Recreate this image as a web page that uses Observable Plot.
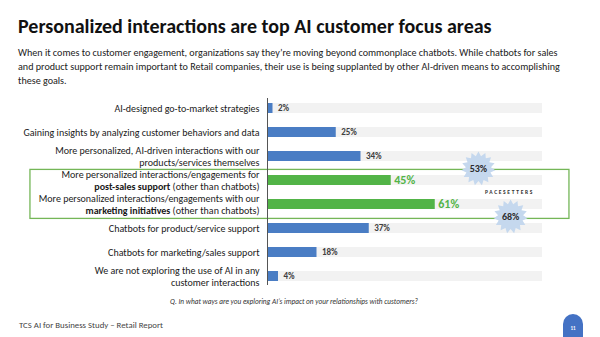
<!DOCTYPE html>
<html>
<head>
<meta charset="utf-8">
<script src="https://cdn.jsdelivr.net/npm/d3@7"></script>
<script src="https://cdn.jsdelivr.net/npm/@observablehq/plot@0.6"></script>
<style>
  html, body { margin: 0; padding: 0; background: #fff; }
  #page { position: relative; width: 600px; height: 337px; overflow: hidden; font-family: Carlito, Lato, sans-serif; color: #1a1a1a; }
  #title { position: absolute; left: 18px; top: 14px; font-size: 20px; font-weight: 700; line-height: 24px; white-space: nowrap; color: #111; }
  #subtitle { position: absolute; left: 18px; top: 46px; font-size: 10.1px; line-height: 14px; white-space: nowrap; color: #222; }
  #chart { position: absolute; left: 0; top: 85px; }
  #question { position: absolute; left: 0; width: 588px; top: 297px; text-align: center; font-size: 7.3px; font-style: italic; color: #333; }
  #footer { position: absolute; left: 19px; top: 320px; font-size: 8.8px; color: #444; }
  #pageno { position: absolute; left: 563px; top: 314px; width: 20px; height: 23px; border-radius: 10px 10px 0 0; background: #4472c4; color: #fff; font-size: 5px; font-weight: 700; text-align: center; line-height: 28px; }
</style>
</head>
<body>
<div id="page">
  <div id="title">Personalized interactions are top AI customer focus areas</div>
  <div id="subtitle">When it comes to customer engagement, organizations say they’re moving beyond commonplace chatbots. While chatbots for sales<br>and product support remain important to Retail companies, their use is being supplanted by other AI-driven means to accomplishing<br>these goals.</div>
  <div id="chart"></div>
  <div id="question">Q. In what ways are you exploring AI’s impact on your relationships with customers?</div>
  <div id="footer">TCS AI for Business Study – Retail Report</div>
  <div id="pageno">11</div>
</div>
<script>
// Survey answers, top to bottom
const categories = [
  "AI-designed go-to-market strategies",
  "Gaining insights by analyzing customer behaviors and data",
  "More personalized, AI-driven interactions with our\nproducts/services themselves",
  "More personalized interactions/engagements for\npost-sales support (other than chatbots)",
  "More personalized interactions/engagements with our\nmarketing initiatives (other than chatbots)",
  "Chatbots for product/service support",
  "Chatbots for marketing/sales support",
  "We are not exploring the use of AI in any\ncustomer interactions"
];
const values = [2, 25, 34, 45, 61, 37, 18, 4];
const highlighted = [false, false, false, true, true, false, false, false];
const boldPhrases = ["post-sales support", "marketing initiatives"];

// Pacesetter shares for the two highlighted answers
const pacesetterValues = [53, 68];
const pacesetterLabel = "PACESETTERS";

const rows = categories.map((label, i) => ({label, value: values[i], hi: highlighted[i]}));
const hiRows = rows.filter(d => d.hi);
const pace = hiRows.map((d, i) => ({label: d.label, value: pacesetterValues[i]}));

const blue = "#4a7dc4";
const green = "#52b447";
const boxGreen = "#74b657";

// Many-pointed badge shape for the pacesetter callouts
const starburst = {
  draw(ctx, size) {
    const R = Math.sqrt(size / Math.PI), r = R * 0.74, n = 15;
    for (let i = 0; i < 2 * n; ++i) {
      const a = (i * Math.PI) / n - Math.PI / 2;
      const rad = i % 2 ? r : R;
      const px = rad * Math.cos(a), py = rad * Math.sin(a);
      if (i === 0) ctx.moveTo(px, py); else ctx.lineTo(px, py);
    }
    ctx.closePath();
  }
};

const chart = Plot.plot({
  width: 600,
  height: 227,
  marginLeft: 267,
  marginRight: 58,
  marginTop: 13,
  marginBottom: 27,
  style: {fontFamily: "Carlito, Lato, sans-serif", overflow: "visible"},
  x: {domain: [0, 100], axis: null},
  y: {domain: categories, axis: null, paddingInner: 0.6, paddingOuter: 0.173},
  marks: [
    // full-scale track behind each bar
    Plot.barX(rows, {y: "label", x: 100, fill: "#f2f2f2"}),
    // outline around the two personalized-engagement answers
    Plot.barX(hiRows.slice(0, 1), {y: "label", x1: -86.2, x2: 109.8, fill: "none", stroke: boxGreen, strokeWidth: 1.3, insetTop: -5.6, insetBottom: -33.4}),
    Plot.barX(rows, {y: "label", x: "value", fill: d => d.hi ? green : blue}),
    Plot.ruleX([0], {stroke: "#555", strokeWidth: 1}),
    Plot.text(rows.filter(d => !d.hi), {y: "label", x: "value", text: d => `${d.value}%`, textAnchor: "start", dx: 5, fontSize: 9, fontWeight: "bold", fill: "#404040"}),
    Plot.text(hiRows, {y: "label", x: "value", text: d => `${d.value}%`, textAnchor: "start", dx: 3, fontSize: 12, fontWeight: "bold", fill: green}),
    Plot.text(rows, {y: "label", x: 0, text: "label", textAnchor: "end", dx: -8, fontSize: 10, lineHeight: 1.2, fill: "#1a1a1a"}),
    // pacesetter callouts
    Plot.dot(pace.slice(0, 1), {y: "label", x: 76.7, dy: -12, r: 17, symbol: starburst, fill: "#c5d8ee", stroke: "none"}),
    Plot.dot(pace.slice(1), {y: "label", x: 88.4, dy: 12, r: 17, symbol: starburst, fill: "#c5d8ee", stroke: "none"}),
    Plot.text(pace.slice(0, 1), {y: "label", x: 76.7, dy: -12, text: d => `${d.value}%`, fontSize: 10, fontWeight: "bold", fill: "#2a2a2a"}),
    Plot.text(pace.slice(1), {y: "label", x: 88.4, dy: 12, text: d => `${d.value}%`, fontSize: 10, fontWeight: "bold", fill: "#2a2a2a"}),
    Plot.text(pace.slice(0, 1), {y: "label", x: 88, dy: 12, text: () => pacesetterLabel, fontSize: 5.5, fontWeight: "bold", fill: "#333", className: "pacesetters"})
  ]
});

// bold the key phrase inside the highlighted answer labels
chart.querySelectorAll("tspan").forEach(ts => {
  const t = ts.textContent;
  const phrase = boldPhrases.find(p => t.startsWith(p));
  if (!phrase) return;
  ts.textContent = "";
  const b = document.createElementNS("http://www.w3.org/2000/svg", "tspan");
  b.setAttribute("font-weight", "bold");
  b.textContent = phrase;
  ts.appendChild(b);
  ts.appendChild(document.createTextNode(t.slice(phrase.length)));
});

// widely tracked lettering for the pacesetter tag
chart.querySelectorAll("g.pacesetters text").forEach(t => t.setAttribute("letter-spacing", "1.7"));

document.getElementById("chart").appendChild(chart);
</script>
</body>
</html>
